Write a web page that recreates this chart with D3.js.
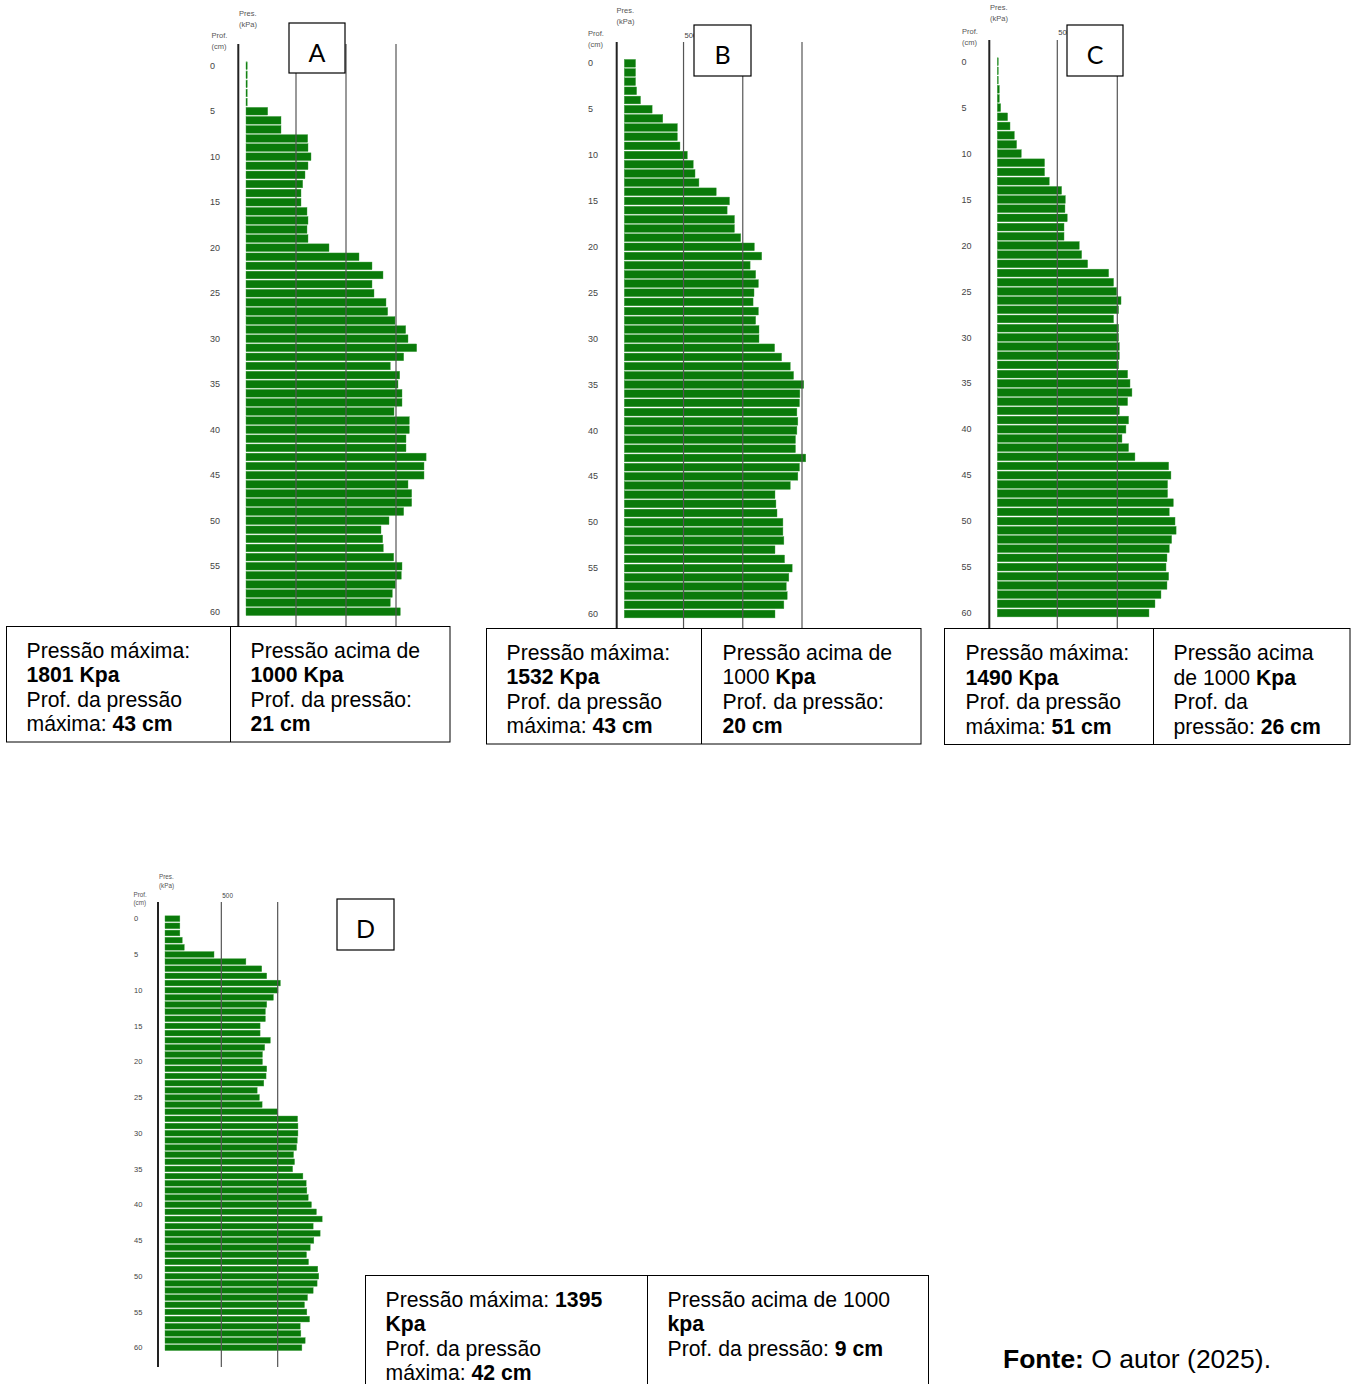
<!DOCTYPE html>
<html>
<head>
<meta charset="utf-8">
<script src="https://cdn.jsdelivr.net/npm/d3@7"></script>
<style>
  body { margin: 0; background: #fff; }
  svg { display: block; }
</style>
</head>
<body>
<svg id="fig" width="1351" height="1384"></svg>
<script>
// ======================= DATA (kPa per cm of depth, 0..60 cm) =======================
const depths = d3.range(0, 61);
const depthTicks = [0, 5, 10, 15, 20, 25, 30, 35, 40, 45, 50, 55, 60];

const pressA = [12, 12, 12, 12, 12, 217, 350, 350, 617, 620,
  650, 620, 590, 567, 550, 550, 610, 620, 610, 620,
  830, 1130, 1260, 1370, 1260, 1280, 1400, 1417, 1490, 1597,
  1620, 1707, 1577, 1443, 1537, 1520, 1560, 1560, 1480, 1633,
  1633, 1600, 1600, 1801, 1780, 1780, 1620, 1657, 1657, 1577,
  1430, 1350, 1367, 1373, 1477, 1560, 1553, 1493, 1463, 1443, 1543];

const pressB = [95, 95, 95, 104, 137, 235, 325, 448, 448, 470,
  532, 582, 597, 630, 776, 888, 868, 930, 930, 983,
  1098, 1160, 1062, 1109, 1132, 1095, 1087, 1132, 1109, 1137,
  1137, 1269, 1328, 1401, 1429, 1515, 1482, 1479, 1457, 1465,
  1457, 1445, 1445, 1532, 1479, 1465, 1401, 1272, 1280, 1289,
  1339, 1339, 1347, 1272, 1353, 1417, 1389, 1367, 1375, 1347, 1272];

const pressC = [8, 8, 8, 17, 17, 28, 86, 106, 142, 161,
  200, 394, 394, 433, 536, 567, 564, 583, 556, 556,
  683, 703, 753, 928, 969, 995, 1031, 1011, 969, 1011,
  1011, 1017, 1017, 1011, 1086, 1106, 1122, 1086, 1017, 1094,
  1072, 1039, 1094, 1147, 1428, 1447, 1419, 1419, 1467, 1433,
  1481, 1490, 1453, 1433, 1414, 1406, 1428, 1414, 1364, 1314, 1264];

const pressD = [132, 132, 132, 153, 171, 435, 718, 859, 903, 1024,
  1003, 962, 903, 891, 891, 844, 844, 935, 885, 865,
  865, 903, 897, 877, 818, 838, 862, 1000, 1177, 1180,
  1180, 1174, 1168, 1141, 1150, 1133, 1224, 1253, 1259, 1271,
  1300, 1344, 1395, 1315, 1377, 1321, 1289, 1256, 1274, 1356,
  1365, 1350, 1315, 1265, 1238, 1259, 1283, 1200, 1206, 1244, 1215];

const gridA = [500, 1000, 1500];
const gridB = [500, 1000, 1500];
const gridC = [500, 1000];
const gridD = [500, 1000];

// table texts: each line is a list of [text, bold]
const tableA = [
  [[["Pressão máxima:", 0]], [["1801 Kpa", 1]], [["Prof. da pressão", 0]], [["máxima: ", 0], ["43 cm", 1]]],
  [[["Pressão acima de", 0]], [["1000 Kpa", 1]], [["Prof. da pressão:", 0]], [["21 cm", 1]]]
];
const tableB = [
  [[["Pressão máxima:", 0]], [["1532 Kpa", 1]], [["Prof. da pressão", 0]], [["máxima: ", 0], ["43 cm", 1]]],
  [[["Pressão acima de", 0]], [["1000 ", 0], ["Kpa", 1]], [["Prof. da pressão:", 0]], [["20 cm", 1]]]
];
const tableC = [
  [[["Pressão máxima:", 0]], [["1490 Kpa", 1]], [["Prof. da pressão", 0]], [["máxima: ", 0], ["51 cm", 1]]],
  [[["Pressão acima", 0]], [["de 1000 ", 0], ["Kpa", 1]], [["Prof. da", 0]], [["pressão: ", 0], ["26 cm", 1]]]
];
const tableD = [
  [[["Pressão máxima: ", 0], ["1395", 1]], [["Kpa", 1]], [["Prof. da pressão", 0]], [["máxima: ", 0], ["42 cm", 1]]],
  [[["Pressão acima de 1000", 0]], [["kpa", 1]], [["Prof. da pressão: ", 0], ["9 cm", 1]]]
];

// ======================= LAYOUT =======================
const svg = d3.select("#fig");
const SANS = "'Liberation Sans', Arial, sans-serif";
const GREEN = "#0a7a0a";

const panels = [
  { name: "A", values: pressA, grid: gridA,
    x0: 246, x1500: 396, yTop: 65.7, yBot: 611.7, axisX: 238.3, lineTop: 44, lineBot: 626,
    labX: 210, tickFont: 9, smallFont: 7.5, presY: [13, 24], profY: [35, 46], presX: 239, profX: 211.5, gridLabY: 37,
    box: [289, 23, 56, 50] },
  { name: "B", values: pressB, grid: gridB,
    x0: 624.3, x1500: 802, yTop: 63.3, yBot: 614, axisX: 616.7, lineTop: 42, lineBot: 628,
    labX: 588, tickFont: 9, smallFont: 7.5, presY: [10, 21], profY: [33, 44], presX: 616.5, profX: 588, gridLabY: 35,
    box: [694, 25, 57, 51] },
  { name: "C", values: pressC, grid: gridC,
    x0: 997.3, x1500: 1177.3, yTop: 61.7, yBot: 613, axisX: 989.3, lineTop: 40, lineBot: 628,
    labX: 961.5, tickFont: 9, smallFont: 7.5, presY: [7.5, 18.5], profY: [31, 42], presX: 990, profX: 962, gridLabY: 32,
    box: [1067, 25, 56, 51] },
  { name: "D", values: pressD, grid: gridD,
    x0: 165, x1500: 334, yTop: 918.7, yBot: 1347.7, axisX: 158, lineTop: 902, lineBot: 1367,
    labX: 134, tickFont: 7.5, smallFont: 6.3, presY: [877, 885.5], profY: [895, 903], presX: 159, profX: 133.5, gridLabY: 896,
    box: [337, 899, 57, 51] }
];

panels.forEach(p => {
  const g = svg.append("g").attr("class", "panel-" + p.name);
  const x = d3.scaleLinear().domain([0, 1500]).range([p.x0, p.x1500]);
  const y = d3.scaleLinear().domain([0, 60]).range([p.yTop, p.yBot]);
  const step = (p.yBot - p.yTop) / 60;
  const bh = step - 1.4;

  // bars
  g.selectAll("rect.bar")
    .data(depths)
    .enter().append("rect")
    .attr("class", "bar")
    .attr("x", x(0))
    .attr("y", d => y(d) - bh / 2)
    .attr("width", d => Math.max(1, x(p.values[d]) - x(0)))
    .attr("height", bh)
    .attr("fill", GREEN)
    .attr("stroke", "#3f9f3f")
    .attr("stroke-width", 0.4);

  // grid lines on top of the bars
  g.selectAll("line.grid")
    .data(p.grid)
    .enter().append("line")
    .attr("class", "grid")
    .attr("x1", d => x(d)).attr("x2", d => x(d))
    .attr("y1", p.lineTop).attr("y2", p.lineBot)
    .attr("stroke", "#555").attr("stroke-width", 1.2);

  // first grid label
  g.append("text")
    .attr("x", x(p.grid[0]) + 1)
    .attr("y", p.gridLabY)
    .attr("dy", "0.35em")
    .attr("font-family", SANS)
    .attr("font-size", p.tickFont * 0.85)
    .attr("fill", "#444")
    .text(p.grid[0]);

  // depth axis
  g.append("line")
    .attr("x1", p.axisX).attr("x2", p.axisX)
    .attr("y1", p.lineTop).attr("y2", p.lineBot)
    .attr("stroke", "#222").attr("stroke-width", 2);

  g.selectAll("text.tick")
    .data(depthTicks)
    .enter().append("text")
    .attr("class", "tick")
    .attr("x", p.labX)
    .attr("y", d => y(d))
    .attr("dy", "0.35em")
    .attr("font-family", SANS)
    .attr("font-size", p.tickFont)
    .attr("fill", "#444")
    .text(d => d);

  const small = (txt, xx, yy) => g.append("text")
    .attr("x", xx).attr("y", yy).attr("dy", "0.35em")
    .attr("font-family", SANS).attr("font-size", p.smallFont)
    .attr("fill", "#555").text(txt);
  small("Pres.", p.presX, p.presY[0]);
  small("(kPa)", p.presX, p.presY[1]);
  small("Prof.", p.profX, p.profY[0]);
  small("(cm)", p.profX, p.profY[1]);

  // letter box
  g.append("rect")
    .attr("x", p.box[0]).attr("y", p.box[1])
    .attr("width", p.box[2]).attr("height", p.box[3])
    .attr("fill", "#fff").attr("stroke", "#000").attr("stroke-width", 1.2);
  g.append("text")
    .attr("x", p.box[0] + p.box[2] / 2)
    .attr("y", p.box[1] + p.box[3] / 2 + 4.5)
    .attr("dy", "0.36em")
    .attr("text-anchor", "middle")
    .attr("font-family", "Lato, 'Open Sans', sans-serif")
    .attr("font-size", 25)
    .attr("fill", "#000")
    .text(p.name);
});

// ======================= TABLES =======================
function drawTable(tx, ty, tw, th, divX, padL, padR, firstBase, lines) {
  const g = svg.append("g");
  g.append("rect").attr("x", tx).attr("y", ty).attr("width", tw).attr("height", th)
    .attr("fill", "#fff").attr("stroke", "#000").attr("stroke-width", 1);
  g.append("line").attr("x1", divX).attr("x2", divX).attr("y1", ty).attr("y2", ty + th)
    .attr("stroke", "#000").attr("stroke-width", 1);
  [tx + padL, divX + padR].forEach((cx, ci) => {
    lines[ci].forEach((parts, li) => {
      const t = g.append("text")
        .attr("x", cx).attr("y", ty + firstBase + li * 24.5)
        .attr("font-family", SANS).attr("font-size", 21.2).attr("fill", "#000");
      parts.forEach(([s, b]) => t.append("tspan").attr("font-weight", b ? "bold" : "normal").text(s));
    });
  });
}

drawTable(6.5, 626.5, 443.5, 115.5, 230.5, 20, 20, 31, tableA);
drawTable(486.5, 628.5, 434.5, 115.5, 701.5, 20, 21, 31, tableB);
drawTable(944.5, 628.5, 405.5, 116, 1153.5, 21, 20, 31.5, tableC);
drawTable(365.5, 1275.5, 563, 120, 647.5, 20, 20, 31, tableD);

// source note
svg.append("text")
  .attr("x", 1003).attr("y", 1368)
  .attr("font-family", SANS).attr("font-size", 26.5).attr("fill", "#000")
  .call(t => {
    t.append("tspan").attr("font-weight", "bold").text("Fonte:");
    t.append("tspan").text(" O autor (2025).");
  });
</script>
</body>
</html>
